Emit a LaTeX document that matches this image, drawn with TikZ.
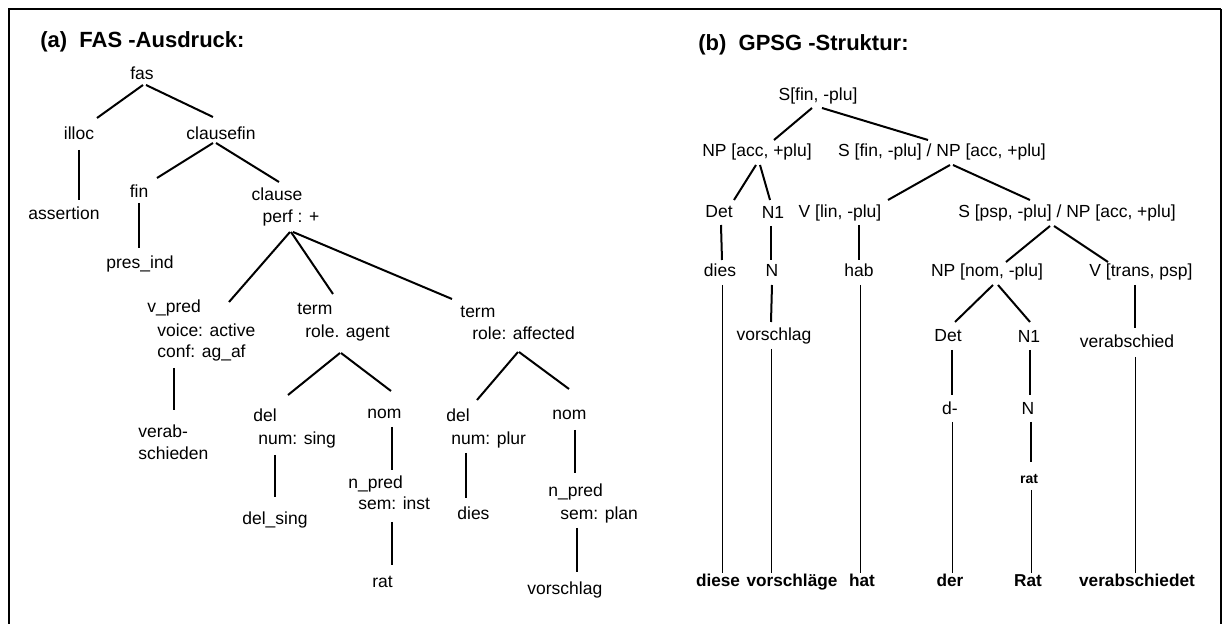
\documentclass[tikz,border=0pt]{standalone}
\usepackage{fontspec}
\setmainfont{Liberation Sans}
\usetikzlibrary{calc}
\tikzset{
  lbl/.style={inner sep=0pt, font=\fontsize{8.75}{10}\selectfont, text height=6.4pt, text depth=1.8pt},
  lw/.style={lbl, anchor=west},
  word/.style={lbl, font=\fontsize{8.6}{10}\selectfont\bfseries},
  ttl/.style={inner sep=0pt, anchor=west, font=\fontsize{11}{13}\selectfont\bfseries},
  branch/.style={line width=1pt},
  thinl/.style={line width=0.5pt},
}
\newcommand\tredge[5][branch]{\draw[#1] ($(#2)+(#3)$) -- ($(#4)+(#5)$);}
\begin{document}
\begin{tikzpicture}[x=0.5pt,y=-0.5pt]
\useasboundingbox (0,0) rectangle (1223,624);
% frame
\draw[line width=1.4pt] (9,624) -- (9,9) -- (1221,9);
\draw[line width=0.6pt] (1221,9) -- (1221,624);

% ---------- (a) ----------
\node[ttl] (ta) at (40,42) {(a)\ \ FAS -Ausdruck:};
\node[lbl] (fas) at (142,75) {fas};
\node[lbl] (illoc) at (79,135) {illoc};
\node[lbl] (clausefin) at (221,135) {clausefin};
\node[lbl] (assertion) at (64,215) {assertion};
\node[lbl] (fin) at (139,193) {fin};
\node[lbl] (clause) at (277,196) {clause};
\node[lbl] (perf) at (291,218) {perf : +};
\node[lbl] (presind) at (140,264) {pres\_ind};
\node[lw] (vpred) at (147,308) {v\_pred};
\node[lw] (voice) at (157,332) {voice: active};
\node[lw] (conf) at (157,353) {conf: ag\_af};
\node[lw] (verab) at (138,433) {verab-};
\node[lw] (schieden) at (138,455) {schieden};
\node[lw] (terma) at (297,310) {term};
\node[lw] (rolea) at (305,333) {role. agent};
\node[lw] (termb) at (460,313) {term};
\node[lw] (roleb) at (472,335) {role: affected};
\node[lw] (dela) at (253,417) {del};
\node[lw] (numa) at (258,440) {num: sing};
\node[lw] (delsing) at (242,520) {del\_sing};
\node[lw] (noma) at (367,414) {nom};
\node[lw] (npreda) at (348,484) {n\_pred};
\node[lw] (sema) at (358,505) {sem: inst};
\node[lw] (rata) at (372,583) {rat};
\node[lw] (delb) at (446,417) {del};
\node[lw] (numb) at (451,440) {num: plur};
\node[lw] (diesa) at (457,515) {dies};
\node[lw] (nomb) at (552,415) {nom};
\node[lw] (npredb) at (548,492) {n\_pred};
\node[lw] (semb) at (560,515) {sem: plan};
\node[lw] (vorschlaga) at (527,590) {vorschlag};

\tredge{fas}{1,10}{illoc}{18,-17}
\tredge{fas}{4,10}{clausefin}{-8,-18}
\tredge{illoc}{0,15}{assertion}{15,-15}
\tredge{clausefin}{-8,8}{fin}{18,-15}
\tredge{clausefin}{-5,8}{clause}{2,-14}
\tredge{fin}{0,10}{presind}{-1,-16}
\tredge{perf}{-1,14}{vpred.west}{82,-6}
\tredge{perf}{0,14}{terma.west}{36,-16}
\tredge{perf}{2,14}{termb.west}{-8,-14}
\tredge{conf.west}{17,15}{verab.west}{36,-23}
\tredge{rolea.west}{35,20}{dela.west}{35,-22}
\tredge{rolea.west}{36,20}{noma.west}{24,-23}
\tredge{roleb.west}{46,17}{delb.west}{31,-17}
\tredge{roleb.west}{47,17}{nomb.west}{17,-26}
\tredge{numa.west}{17,15}{delsing.west}{33,-23}
\tredge{noma.west}{25,13}{npreda.west}{44,-14}
\tredge{sema.west}{34,17}{rata.west}{20,-18}
\tredge{numb.west}{15,13}{diesa.west}{9,-17}
\tredge{nomb.west}{23,15}{npredb.west}{27,-19}
\tredge{semb.west}{17,13}{vorschlaga.west}{50,-18}

% ---------- (b) ----------
\node[ttl] (tb) at (698,45) {(b)\ \ GPSG -Struktur:};
\node[lbl] (S0) at (818,96) {S[fin, -plu]};
\node[lbl] (NPacc) at (757,152) {NP [acc, +plu]};
\node[lbl] (SNP) at (942,152) {S [fin, -plu] / NP [acc, +plu]};
\node[lbl] (Deta) at (719,213) {Det};
\node[lbl] (Nonea) at (773,214) {N1};
\node[lbl] (Vlin) at (840,213) {V [lin, -plu]};
\node[lbl] (Spsp) at (1067,213) {S [psp, -plu] / NP [acc, +plu]};
\node[lbl] (diesb) at (720,272) {dies};
\node[lbl] (Na) at (772,272) {N};
\node[lbl] (hab) at (859,272) {hab};
\node[lbl] (NPnom) at (987,272) {NP [nom, -plu]};
\node[lbl] (Vtrans) at (1141,272) {V [trans, psp]};
\node[lbl] (vorschlagb) at (774,336) {vorschlag};
\node[lbl] (Detb) at (948,337) {Det};
\node[lbl] (Noneb) at (1029,338) {N1};
\node[lbl] (verabschied) at (1127,343) {verabschied};
\node[lbl] (dminus) at (950,410) {d-};
\node[lbl] (Nb) at (1028,410) {N};
\node[lbl, font=\fontsize{7}{8}\selectfont\bfseries] (ratb) at (1029,479) {rat};
\node[word] (diese) at (718,582) {diese};
\node[word] (vorschlaege) at (792,582) {vorschläge};
\node[word] (hat) at (862,582) {hat};
\node[word] (der) at (950,582) {der};
\node[word] (Rat) at (1028,582) {Rat};
\node[word] (verabschiedet) at (1137,582) {verabschiedet};

\tredge{S0}{-6,12}{NPacc}{17,-12}
\tredge{S0}{4,12}{SNP}{-14,-12}
\tredge{NPacc}{-1,13}{Deta}{15,-13}
\tredge{NPacc}{3,13}{Nonea}{-3,-14}
\tredge{SNP}{8,13}{Vlin}{48,-13}
\tredge{SNP}{11,13}{Spsp}{-37,-13}
\tredge{Deta}{2,12}{diesb}{2,-12}
\tredge{Nonea}{-2,12}{Na}{-1,-12}
\tredge{Vlin}{19,12}{hab}{0,-12}
\tredge{Spsp}{-17,13}{NPnom}{19,-10}
\tredge{Spsp}{-13,13}{Vtrans}{-33,-10}
\tredge[thinl]{diesb}{2,13}{diese}{4,-9}
\tredge{Na}{0,13}{vorschlagb}{-3,-14}
\tredge[thinl]{vorschlagb}{-3,13}{vorschlaege}{-21,-9}
\tredge[thinl]{hab}{1,13}{hat}{-2,-9}
\tredge{NPnom}{6,13}{Detb}{7,-15}
\tredge{NPnom}{11,13}{Noneb}{1,-16}
\tredge{Vtrans}{-6,13}{verabschied}{8,-15}
\tredge{Detb}{4,13}{dminus}{2,-15}
\tredge{Noneb}{1,12}{Nb}{2,-15}
\tredge[thinl]{dminus}{2,12}{der}{2,-9}
\tredge{Nb}{3,12}{ratb}{2,-17}
\tredge[thinl]{ratb}{2,11}{Rat}{3,-9}
\tredge[thinl]{verabschied}{8,14}{verabschiedet}{-2,-9}
\end{tikzpicture}
\end{document}
